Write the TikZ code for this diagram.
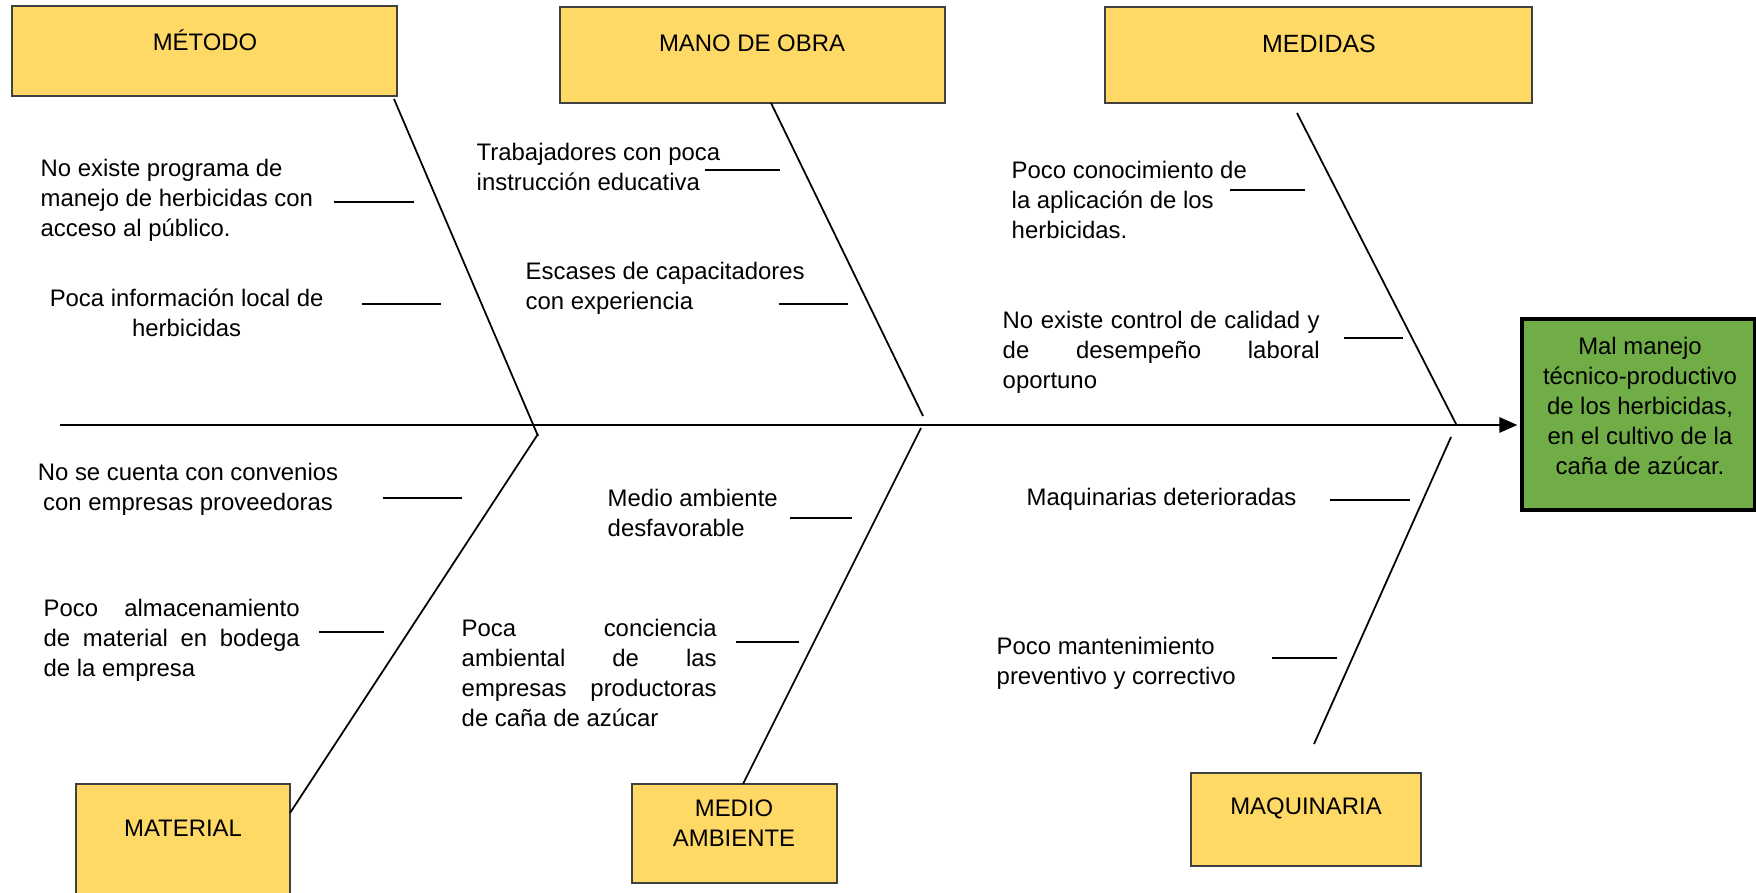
\documentclass[tikz,border=0pt]{standalone}
\usepackage{fontspec}
\setmainfont{Liberation Sans}
\usetikzlibrary{arrows.meta}
\definecolor{amarillo}{HTML}{FFD966}
\definecolor{verde}{HTML}{70AD47}
\tikzset{
	categoria/.style={draw=black!75, fill=amarillo, line width=0.45pt, inner sep=0},
	titulo/.style={inner sep=0, align=center},
	causa/.style={inner sep=0, align=left, anchor=west},
	justo/.style={inner sep=0, align=justify, anchor=west},
	espina/.style={line width=0.5pt},
	rama/.style={line width=0.45pt},
}
\begin{document}
\begin{tikzpicture}[font=\fontsize{6.8}{8.5}\selectfont]
		\useasboundingbox (0,0) rectangle (17.56,-8.93);
		% boxes
		\node[categoria, minimum width=3.85cm, minimum height=0.90cm] (metodo) at (2.045,-0.51) {};
		\node[categoria, minimum width=3.85cm, minimum height=0.96cm] (mano) at (7.525,-0.55) {};
		\node[categoria, minimum width=4.27cm, minimum height=0.96cm] (medidas) at (13.185,-0.55) {};
		\node[categoria, minimum width=2.14cm, minimum height=1.21cm] (material) at (1.83,-8.445) {};
		\node[categoria, minimum width=2.05cm, minimum height=0.99cm] (medio) at (7.345,-8.335) {};
		\node[categoria, minimum width=2.30cm, minimum height=0.93cm] (maquinaria) at (13.06,-8.195) {};
		\node[draw=black, fill=verde, line width=0.9pt, inner sep=0,
			minimum width=2.33cm, minimum height=1.91cm] (efecto) at (16.385,-4.145) {};
		% titles
		\node[titulo] (metodoT) at (2.05,-0.40) {MÉTODO};
		\node[titulo] (manoT) at (7.52,-0.43) {MANO DE OBRA};
		\node[titulo, font=\fontsize{7.1}{8.5}\selectfont] (medidasT) at (13.19,-0.44) {MEDIDAS};
		\node[titulo] (materialT) at (1.83,-8.28) {MATERIAL};
		\node[titulo] (medioT) at (7.34,-8.23) {MEDIO\\AMBIENTE};
		\node[titulo] (maquinariaT) at (13.06,-8.08) {MAQUINARIA};
		\node[titulo] (efectoT) at (16.40,-4.06)
			{Mal manejo\\técnico-productivo\\de los herbicidas,\\en el cultivo de la\\caña de azúcar.};
		% spine
		\coordinate (cola) at (0.60,-4.25);
		\draw[line width=0.75pt, -{Triangle[length=1.8mm,width=1.5mm]}, shorten >=0.03cm]
		(cola) -- (cola -| efecto.west);
		% bones
		\coordinate (metodoA) at (3.94,-0.99);
		\coordinate (metodoB) at (5.38,-4.36);
		\coordinate (materialA) at (2.90,-8.13);
		\coordinate (materialB) at (5.38,-4.34);
		\coordinate (manoA) at (7.71,-1.03);
		\coordinate (manoB) at (9.23,-4.16);
		\coordinate (medioA) at (7.43,-7.84);
		\coordinate (medioB) at (9.21,-4.28);
		\coordinate (medidasA) at (12.97,-1.13);
		\coordinate (medidasB) at (14.56,-4.24);
		\coordinate (maquinariaA) at (13.14,-7.44);
		\coordinate (maquinariaB) at (14.51,-4.37);
		\draw[espina] (metodoA) -- (metodoB);
		\draw[espina] (materialA) -- (materialB);
		\draw[espina] (manoA) -- (manoB);
		\draw[espina] (medioA) -- (medioB);
		\draw[espina] (medidasA) -- (medidasB);
		\draw[espina] (maquinariaA) -- (maquinariaB);
		% small branches
		\draw[rama] (3.34,-2.02) -- (4.14,-2.02);
		\draw[rama] (3.62,-3.04) -- (4.41,-3.04);
		\draw[rama] (7.05,-1.70) -- (7.80,-1.70);
		\draw[rama] (7.785,-3.04) -- (8.48,-3.04);
		\draw[rama] (12.30,-1.90) -- (13.05,-1.90);
		\draw[rama] (13.44,-3.38) -- (14.03,-3.38);
		\draw[rama] (3.83,-4.98) -- (4.62,-4.98);
		\draw[rama] (3.19,-6.32) -- (3.84,-6.32);
		\draw[rama] (7.90,-5.18) -- (8.52,-5.18);
		\draw[rama] (7.36,-6.42) -- (7.985,-6.42);
		\draw[rama] (13.30,-5.00) -- (14.10,-5.00);
		\draw[rama] (12.72,-6.58) -- (13.37,-6.58);
		% causes
		\node[causa] (c1) at (0.40,-2.00) {No existe programa de\\manejo de herbicidas con\\acceso al público.};
		\node[titulo] (c2) at (1.866,-3.13) {Poca información local de\\herbicidas};
		\node[causa] (c3) at (4.76,-1.67) {Trabajadores con poca\\instrucción educativa};
		\node[causa] (c4) at (5.25,-2.88) {Escases de capacitadores\\con experiencia};
		\node[causa] (c5) at (10.11,-2.00) {Poco conocimiento de\\la aplicación de los\\herbicidas.};
		\node[justo, text width=3.17cm] (c6) at (10.02,-3.52)
			{No existe control de calidad y\linebreak de desempeño laboral\linebreak oportuno};
		\node[titulo] (c7) at (1.88,-4.89) {No se cuenta con convenios\\con empresas proveedoras};
		\node[justo, text width=2.56cm] (c8) at (0.43,-6.40)
			{Poco almacenamiento\linebreak de material en bodega\linebreak de la empresa};
		\node[causa] (c9) at (6.07,-5.13) {Medio ambiente\\desfavorable};
		\node[justo, text width=2.55cm] (c10) at (4.61,-6.73)
			{Poca conciencia\linebreak ambiental de las\linebreak empresas productoras\linebreak de caña de azúcar};
		\node[causa] (c11) at (10.26,-4.99) {Maquinarias deterioradas};
		\node[causa] (c12) at (9.96,-6.63) {Poco mantenimiento\\preventivo y correctivo};
	\end{tikzpicture}
\end{document}
